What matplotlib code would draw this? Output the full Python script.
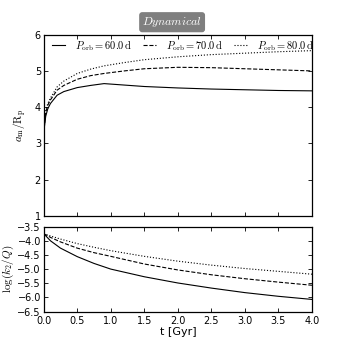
import numpy as np
import matplotlib
matplotlib.use("Agg")
import matplotlib.pyplot as plt

plt.rcParams['mathtext.fontset'] = 'cm'
plt.rcParams['font.family'] = 'DejaVu Sans'
plt.rcParams['xtick.direction'] = 'in'
plt.rcParams['ytick.direction'] = 'in'
plt.rcParams['xtick.top'] = True
plt.rcParams['ytick.right'] = True

# semi-major axis evolution
t_a = [0, 0.01, 0.03, 0.06, 0.1, 0.2, 0.3, 0.5, 0.7, 0.9, 1.2, 1.5, 2.0, 2.5, 3.0, 3.5, 4.0]
a_60 = [3.08, 3.45, 3.75, 3.95, 4.1, 4.33, 4.43, 4.54, 4.6, 4.65, 4.61, 4.57, 4.53, 4.5, 4.48, 4.46, 4.45]
a_70 = [3.08, 3.5, 3.85, 4.05, 4.2, 4.47, 4.6, 4.77, 4.87, 4.93, 5.0, 5.06, 5.1, 5.09, 5.06, 5.03, 5.0]
a_80 = [3.08, 3.55, 3.9, 4.1, 4.25, 4.56, 4.72, 4.93, 5.05, 5.14, 5.23, 5.31, 5.39, 5.45, 5.49, 5.53, 5.56]

# tidal dissipation
t_q = [0, 0.1, 0.25, 0.5, 0.75, 1.0, 1.5, 2.0, 2.5, 3.0, 3.5, 4.0]
q_60 = [-3.75, -4.0, -4.26, -4.56, -4.8, -5.0, -5.27, -5.49, -5.67, -5.83, -5.96, -6.07]
q_70 = [-3.75, -3.88, -4.04, -4.26, -4.42, -4.55, -4.82, -5.03, -5.2, -5.34, -5.46, -5.57]
q_80 = [-3.75, -3.83, -3.94, -4.1, -4.23, -4.35, -4.55, -4.72, -4.86, -4.98, -5.08, -5.18]

periods = ['60.0', '70.0', '80.0']
styles = ['-', '--', ':']

fig = plt.figure(figsize=(3.47, 3.47), dpi=100)
ax1 = fig.add_axes([0.126, 0.378, 0.773, 0.522])
ax2 = fig.add_axes([0.126, 0.102, 0.773, 0.245])

for a, q, p, ls in zip([a_60, a_70, a_80], [q_60, q_70, q_80], periods, styles):
    lab = r'$P_{\rm orb}=%s\,{\rm d}$' % p
    ax1.plot(t_a, a, ls, color='k', lw=0.8, label=lab)
    ax2.plot(t_q, q, ls, color='k', lw=0.8)

ax1.set_xlim(0, 4)
ax1.set_ylim(1, 6)
ax1.set_xticks(np.arange(0, 4.01, 0.5))
ax1.set_xticklabels([])
ax1.set_yticks([1, 2, 3, 4, 5, 6])
ax1.set_ylabel(r'$a_{\rm m}/{\rm R_p}$', fontsize=8)
ax1.legend(loc='upper center', ncol=3, frameon=False, fontsize=7.5,
           handlelength=1.25, borderaxespad=0.1, borderpad=0.3,
           bbox_to_anchor=(0.52, 1.0), handletextpad=1.0, columnspacing=1.0)

ax2.set_xlim(0, 4)
ax2.set_ylim(-6.5, -3.5)
ax2.set_xticks(np.arange(0, 4.01, 0.5))
ax2.set_yticks(np.arange(-6.5, -3.49, 0.5))
ax2.set_xlabel('t [Gyr]', fontsize=8, labelpad=1)
ax2.set_ylabel(r'${\rm log}(k_2/Q)$', fontsize=8, labelpad=1)

for ax in (ax1, ax2):
    ax.tick_params(labelsize=7, length=3, width=0.6, pad=2)
    for s in ax.spines.values():
        s.set_linewidth(0.9)
ax2.tick_params(axis='x', pad=3)

fig.text(0.496, 0.936, r'$Dynamical$', ha='center', va='center', color='white',
         fontsize=8.5,
         bbox=dict(boxstyle='round,pad=0.2', fc='#7f7f7f', ec='#7f7f7f'))

fig.savefig('out.png', dpi=100)
